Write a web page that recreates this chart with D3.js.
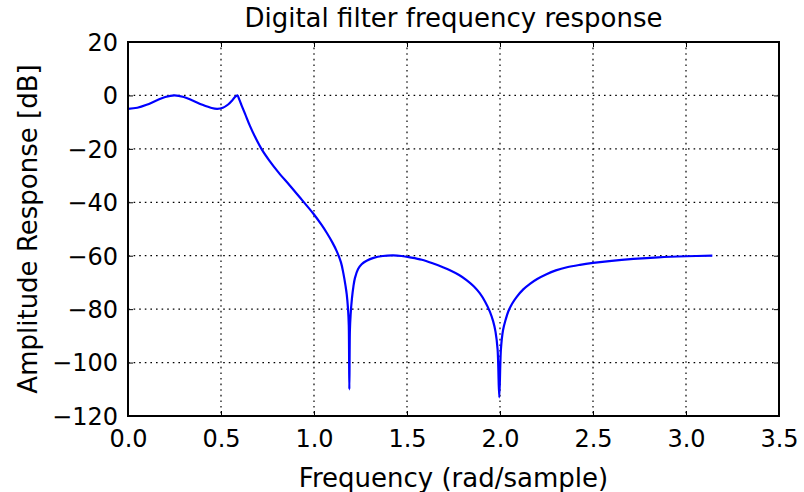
<!DOCTYPE html>
<html>
<head>
<meta charset="utf-8">
<script src="https://cdn.jsdelivr.net/npm/d3@7"></script>
<style>
  html, body { margin: 0; padding: 0; background: #fff; }
  svg { display: block; font-family: "DejaVu Sans", sans-serif; }
</style>
</head>
<body>
<svg id="chart" width="804" height="492"></svg>
<script>
// Frequency (rad/sample)
const freq = [0, 0.05, 0.1, 0.15, 0.2, 0.25, 0.3, 0.35, 0.4, 0.45, 0.48, 0.51, 0.54, 0.56, 0.575, 0.588,
  0.598, 0.61, 0.63, 0.655, 0.683, 0.719, 0.76, 0.81, 0.871, 0.935, 0.996, 1.04, 1.07, 1.1, 1.122, 1.145, 1.158,
  1.17, 1.176, 1.183, 1.187, 1.19, 1.193, 1.197, 1.204, 1.212, 1.22, 1.237, 1.256, 1.283, 1.32, 1.37, 1.426,
  1.47, 1.516, 1.58, 1.641, 1.69, 1.731, 1.78, 1.82, 1.86, 1.892, 1.92, 1.946, 1.963, 1.976, 1.987, 1.996,
  2.005, 2.016, 2.03, 2.045, 2.065, 2.09, 2.125, 2.161, 2.2, 2.25, 2.3, 2.36, 2.43, 2.5, 2.6, 2.717, 2.85, 3.0, 3.1416];
// Amplitude response (dB)
const ampDb = [-5, -4.6, -3.5, -2.0, -0.6, 0, -0.6, -2.0, -3.5, -4.7, -5, -4.6, -3.3, -1.9, -0.6, 0,
  -1.5, -3.6, -7.0, -11.3, -15.5, -20.2, -24.4, -28.9, -33.8, -39.1, -44.2, -48.4, -51.6, -55.2, -58.3, -62.5, -66.6,
  -71.5, -74.5, -80, -86, -110, -88, -82, -76, -71.5, -68.4, -65, -63.2, -61.9, -60.8, -60.1, -59.9,
  -60.1, -60.6, -61.5, -62.9, -64.2, -65.4, -67.2, -69.1, -71.5, -74.1, -77.2, -81, -84.5, -88.5, -95, -113,
  -95, -88, -84, -80.8, -78, -75.4, -72.6, -70.5, -68.7, -66.9, -65.5, -64.3, -63.4, -62.7, -61.9, -61.2, -60.6, -60.2, -60];
const xTicks = [0, 0.5, 1.0, 1.5, 2.0, 2.5, 3.0, 3.5];
const yTicks = [20, 0, -20, -40, -60, -80, -100, -120];
const titleText = "Digital filter frequency response";
const xLabelText = "Frequency (rad/sample)";
const yLabelText = "Amplitude Response [dB]";

const pL = 128, pR = 779, pT = 42, pB = 416;
const svg = d3.select("#chart");
const x = d3.scaleLinear().domain([0, 3.5]).range([pL, pR]);
const y = d3.scaleLinear().domain([-120, 20]).range([pB, pT]);
const fmt = v => (v < 0 ? "\u2212" : "") + Math.abs(v);

// grid
const grid = svg.append("g");
grid.selectAll("line.gx").data(xTicks.slice(1, -1)).join("line")
  .attr("x1", d => x(d)).attr("x2", d => x(d)).attr("y1", pT).attr("y2", pB)
  .attr("stroke", "#000").attr("stroke-width", 1.2).attr("stroke-dasharray", "1.6,4");
grid.selectAll("line.gy").data(yTicks.slice(1, -1)).join("line")
  .attr("y1", d => y(d)).attr("y2", d => y(d)).attr("x1", pL).attr("x2", pR)
  .attr("stroke", "#000").attr("stroke-width", 1.2).attr("stroke-dasharray", "1.6,4");

// curve
const pts = freq.map((f, i) => [f, ampDb[i]]);
svg.append("path").datum(pts)
  .attr("d", d3.line().x(d => x(d[0])).y(d => y(d[1])).curve(d3.curveCatmullRom.alpha(0.5)))
  .attr("fill", "none").attr("stroke", "#0000ff").attr("stroke-width", 2.2)
  .attr("stroke-linejoin", "round");

// axes (ticks inside, on all sides)
const tl = 5;
const xb = svg.append("g").attr("transform", `translate(0,${pB})`)
  .call(d3.axisBottom(x).tickValues(xTicks).tickSize(-tl).tickPadding(10).tickFormat(d3.format(".1f")));
const xt = svg.append("g").attr("transform", `translate(0,${pT})`)
  .call(d3.axisTop(x).tickValues(xTicks).tickSize(-tl).tickFormat(""));
const yl = svg.append("g").attr("transform", `translate(${pL},0)`)
  .call(d3.axisLeft(y).tickValues(yTicks).tickSize(-tl).tickPadding(10).tickFormat(fmt));
const yr = svg.append("g").attr("transform", `translate(${pR},0)`)
  .call(d3.axisRight(y).tickValues(yTicks).tickSize(-tl).tickFormat(""));
[xb, xt, yl, yr].forEach(g => {
  g.select(".domain").remove();
  g.selectAll(".tick line").attr("stroke", "#000").attr("stroke-width", 1);
  g.selectAll(".tick text").attr("fill", "#000").style("font-size", "24px")
    .style("font-family", "'DejaVu Sans', sans-serif");
});
xb.selectAll(".tick text").attr("dy", null).attr("y", 31);
yl.selectAll(".tick text").attr("dy", "0.35em").attr("x", -10);

// frame
svg.append("rect").attr("x", pL).attr("y", pT).attr("width", pR - pL).attr("height", pB - pT)
  .attr("fill", "none").attr("stroke", "#000").attr("stroke-width", 2);

// texts
svg.append("text").attr("x", (pL + pR) / 2).attr("y", 27).attr("text-anchor", "middle")
  .style("font-size", "26px").text(titleText);
svg.append("text").attr("x", (pL + pR) / 2).attr("y", 487).attr("text-anchor", "middle")
  .style("font-size", "26px").text(xLabelText);
svg.append("text").attr("transform", `translate(37,${(pT + pB) / 2}) rotate(-90)`)
  .attr("text-anchor", "middle").style("font-size", "26px").text(yLabelText);
</script>
</body>
</html>
